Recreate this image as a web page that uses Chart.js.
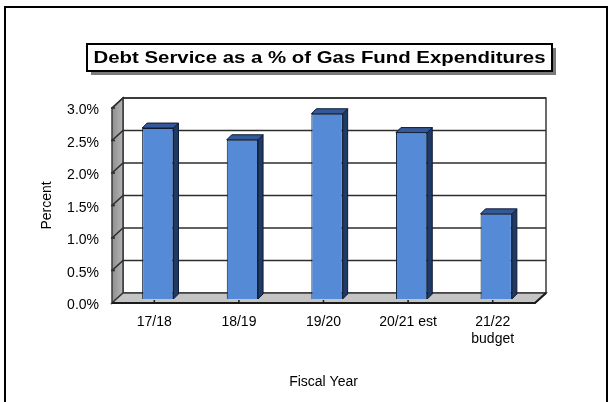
<!DOCTYPE html>
<html>
<head>
<meta charset="utf-8">
<script src="https://cdn.jsdelivr.net/npm/chart.js@4.4.1/dist/chart.umd.min.js"></script>
<style>
  html, body { margin: 0; padding: 0; background: #ffffff; }
  #wrap { width: 614px; height: 402px; position: relative; }
</style>
</head>
<body>
<div id="wrap"><canvas id="c"></canvas></div>
<script>
// Debt service share of gas fund spending, by fiscal year
const categories = ['17/18', '18/19', '19/20', '20/21 est', ['21/22', 'budget']];
const debtServicePct = [2.63, 2.45, 2.85, 2.56, 1.31];
const percentTicks = [0, 0.5, 1.0, 1.5, 2.0, 2.5, 3.0];
const chartTitle = 'Debt Service as a % of Gas Fund Expenditures';
const xAxisTitle = 'Fiscal Year';
const yAxisTitle = 'Percent';

const FONT = '"Liberation Sans", Arial, sans-serif';

// Depth of the box walls and of the bars (pseudo 3-D look)
const WALL = { dx: 11, dy: -10 };
const BAR_FRONT = { dx: 3.5, dy: -4 };
const BAR_DEPTH = { dx: 5, dy: -5 };

function poly(ctx, pts, fill, stroke, lw) {
  ctx.beginPath();
  ctx.moveTo(pts[0][0], pts[0][1]);
  for (let i = 1; i < pts.length; i++) ctx.lineTo(pts[i][0], pts[i][1]);
  ctx.closePath();
  if (fill) { ctx.fillStyle = fill; ctx.fill(); }
  if (stroke) { ctx.strokeStyle = stroke; ctx.lineWidth = lw || 1; ctx.stroke(); }
}

const box3d = {
  id: 'box3d',
  beforeDraw(chart) {
    const ctx = chart.ctx;
    ctx.save();
    ctx.fillStyle = '#ffffff';
    ctx.fillRect(0, 0, chart.width, chart.height);
    // outer frame
    ctx.strokeStyle = '#000000';
    ctx.lineWidth = 2;
    ctx.strokeRect(5, 7, 602, 420);

    // boxed title with drop shadow
    ctx.font = 'bold 17px ' + FONT;
    const tw = ctx.measureText(chartTitle).width;
    const targetW = 452;
    const sx = targetW / tw;
    const cx = 319.5, cy = 57.5;
    const bx = 87, by = 44, bw = 465, bh = 27;
    ctx.fillStyle = '#7a7a7a';
    ctx.fillRect(bx + 4, by + 4, bw, bh);
    ctx.fillStyle = '#ffffff';
    ctx.fillRect(bx, by, bw, bh);
    ctx.strokeStyle = '#000000';
    ctx.lineWidth = 2;
    ctx.strokeRect(bx, by, bw, bh);
    ctx.translate(cx, cy);
    ctx.scale(sx, 1);
    ctx.fillStyle = '#000000';
    ctx.textAlign = 'center';
    ctx.textBaseline = 'middle';
    ctx.fillText(chartTitle, 0, 1);
    ctx.restore();
  },
  beforeDatasetsDraw(chart) {
    const ctx = chart.ctx;
    const { left, right, top, bottom } = chart.chartArea;
    const ys = chart.scales.y, xs = chart.scales.x;
    const dx = WALL.dx, dy = WALL.dy;
    ctx.save();
    // back wall
    poly(ctx, [[left + dx, top + dy], [right + dx, top + dy], [right + dx, bottom + dy], [left + dx, bottom + dy]], '#ffffff', '#3a3a3a', 1.5);
    // left side wall
    const g = ctx.createLinearGradient(left, 0, left + dx, 0);
    g.addColorStop(0, '#8f8f8f');
    g.addColorStop(1, '#b4b4b4');
    poly(ctx, [[left, top], [left + dx, top + dy], [left + dx, bottom + dy], [left, bottom]], g, '#3a3a3a', 1.5);
    // floor
    poly(ctx, [[left, bottom], [right, bottom], [right + dx, bottom + dy], [left + dx, bottom + dy]], '#c4c4c4', '#3a3a3a', 1.5);
    // gridlines across side wall and back wall
    ctx.strokeStyle = '#2e2e2e';
    ctx.lineWidth = 1.6;
    ys.ticks.forEach(t => {
      if (t.value <= 0) return;
      const y = ys.getPixelForValue(t.value);
      ctx.beginPath();
      ctx.moveTo(left, y);
      ctx.lineTo(left + dx, y + dy);
      ctx.lineTo(right + dx, y + dy);
      ctx.stroke();
      // tick mark on the front edge of the side wall
      ctx.beginPath();
      ctx.moveTo(left - 1, y);
      ctx.lineTo(left + 3, y);
      ctx.stroke();
    });
    // front floor edge and category tick marks
    ctx.strokeStyle = '#1a1a1a';
    ctx.lineWidth = 2;
    ctx.beginPath();
    ctx.moveTo(left, bottom);
    ctx.lineTo(right, bottom);
    ctx.lineTo(right + dx, bottom + dy);
    ctx.stroke();
    ctx.lineWidth = 1.5;
    for (let i = 0; i < categories.length; i++) {
      const x = xs.getPixelForValue(i);
      ctx.beginPath();
      ctx.moveTo(x, bottom - 3);
      ctx.lineTo(x, bottom + 1);
      ctx.stroke();
    }
    ctx.restore();
    // bars stand a little back from the front edge
    ctx.save();
    ctx.translate(BAR_FRONT.dx, BAR_FRONT.dy);
  },
  afterDatasetsDraw(chart) {
    const ctx = chart.ctx;
    ctx.restore();
    ctx.save();
    const meta = chart.getDatasetMeta(0);
    meta.data.forEach(el => {
      const p = el.getProps(['x', 'y', 'base', 'width'], true);
      const xl = p.x - p.width / 2 + BAR_FRONT.dx;
      const xr = p.x + p.width / 2 + BAR_FRONT.dx;
      const yt = p.y + BAR_FRONT.dy;
      const yb = p.base + BAR_FRONT.dy;
      const bdx = BAR_DEPTH.dx, bdy = BAR_DEPTH.dy;
      poly(ctx, [[xr, yt], [xr + bdx, yt + bdy], [xr + bdx, yb + bdy], [xr, yb]], '#1f3a66', '#0e1a30', 1);
      poly(ctx, [[xl, yt], [xl + bdx, yt + bdy], [xr + bdx, yt + bdy], [xr, yt]], '#34599a', '#0e1a30', 1);
    });
    ctx.restore();
  }
};

new Chart(document.getElementById('c'), {
  type: 'bar',
  data: {
    labels: categories,
    datasets: [{
      label: yAxisTitle,
      data: debtServicePct,
      backgroundColor: '#558bd6',
      borderColor: '#0e1a30',
      borderWidth: 1,
      barPercentage: 0.37,
      categoryPercentage: 1.0
    }]
  },
  options: {
    responsive: true,
    maintainAspectRatio: false,
    animation: false,
    devicePixelRatio: 1,
    layout: { padding: { left: 20, right: 79, top: 108, bottom: 0 } },
    plugins: {
      legend: { display: false },
      tooltip: { enabled: false },
      title: { display: false }
    },
    scales: {
      x: {
        grid: { display: false, drawTicks: false },
        border: { display: false },
        ticks: {
          color: '#000000',
          font: { family: FONT, size: 14, lineHeight: 1.2 },
          padding: 11,
          maxRotation: 0,
          autoSkip: false
        },
        title: {
          display: true,
          text: xAxisTitle,
          color: '#000000',
          font: { family: FONT, size: 14, lineHeight: 1.2 },
          padding: { top: 0, bottom: 11 }
        },
        afterFit(scale) { scale.height = 99; }
      },
      y: {
        min: 0,
        max: 3,
        grid: { display: false, drawTicks: false },
        border: { display: false },
        afterBuildTicks(scale) { scale.ticks = percentTicks.map(v => ({ value: v })); },
        ticks: {
          color: '#000000',
          font: { family: FONT, size: 14 },
          padding: 13,
          labelOffset: 2.5,
          callback: v => v.toFixed(1) + '%'
        },
        title: {
          display: true,
          text: yAxisTitle,
          color: '#000000',
          font: { family: FONT, size: 14, lineHeight: 1.2 },
          padding: { top: 19, bottom: 0 }
        },
        afterFit(scale) { scale.width = 92; }
      }
    }
  },
  plugins: [box3d]
});
</script>
</body>
</html>
